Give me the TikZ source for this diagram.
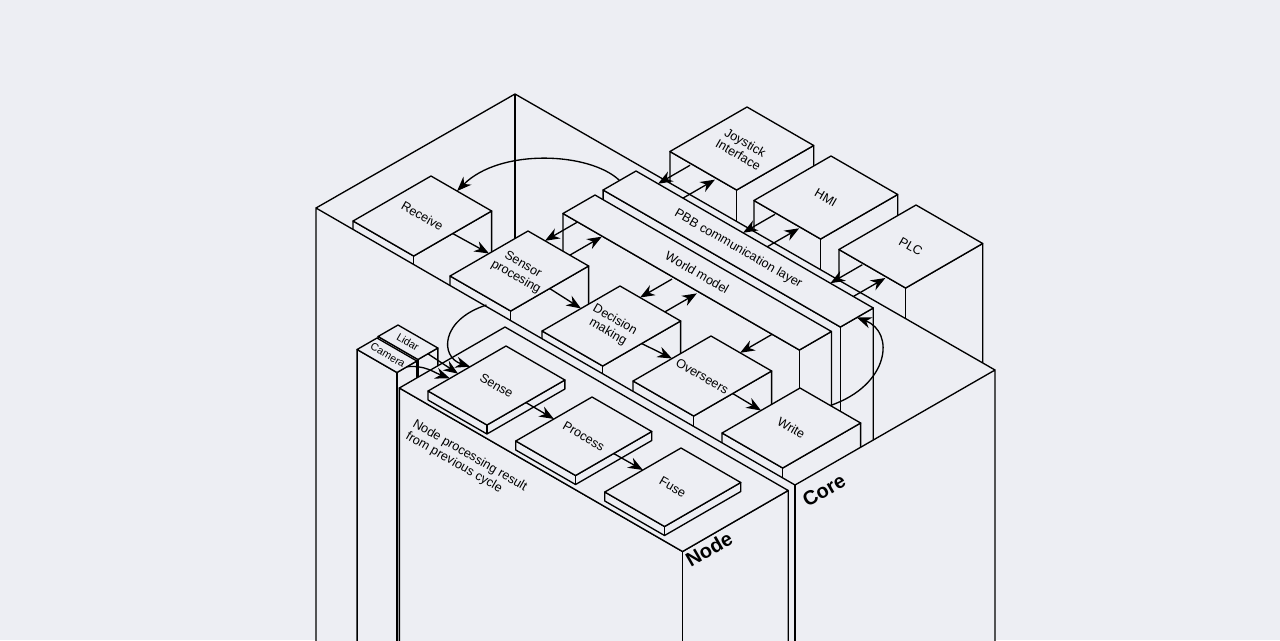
\documentclass[tikz,border=0pt]{standalone}
\usepackage{fontspec}
\setmainfont{Liberation Sans}
\usetikzlibrary{calc,arrows.meta}
\definecolor{bg}{HTML}{EDEEF3}

% isometric box: name, top corner x, y, length (down-right), depth (up-right), height
\newcommand{\isobox}[6]{%
  \coordinate (#1-T) at (#2,#3);
  \coordinate (#1-R) at ($(#1-T)+(0.866*#4,0.5*#4)$);
  \coordinate (#1-L) at ($(#1-T)+(-0.866*#5,0.5*#5)$);
  \coordinate (#1-F) at ($(#1-L)+(0.866*#4,0.5*#4)$);
  \filldraw[box] (#1-L) -- (#1-F) -- (#1-R) -- ($(#1-R)+(0,#6)$) -- ($(#1-F)+(0,#6)$) -- ($(#1-L)+(0,#6)$) -- cycle;
  \draw[box] (#1-T) -- (#1-R) -- (#1-F) -- (#1-L) -- cycle;
  \draw[box] (#1-F) -- ($(#1-F)+(0,#6)$);
  \coordinate (#1-c) at ($(#1-T)!0.5!(#1-F)$);
  \coordinate (#1-in) at ($(#1-L)!0.5!(#1-T)$);
  \coordinate (#1-out) at ($(#1-F)!0.5!(#1-R)$);
}
% link across a gap (up-right): name, box, fraction on back edge
\newcommand{\gaplink}[3]{%
  \coordinate (#1a) at ($(#2-T)!#3!(#2-R)$);
  \coordinate (#1b) at ($(#1a)+(32,-18.5)$);
}

\begin{document}
\begin{tikzpicture}[x={(0.75pt,0)}, y={(0,-0.75pt)},
  box/.style={draw=black, fill=bg, line width=1pt, line join=round},
  flow/.style={-{Stealth[length=11pt,width=8.5pt]}, line width=1pt},
  lbl/.style={font=\fontsize{9.5}{10.5}\selectfont, rotate=-30, align=center, inner sep=1pt},
  small/.style={lbl, font=\fontsize{8}{9}\selectfont}]
\useasboundingbox (0,0) rectangle (1280,640);
\fill[bg] (0,0) rectangle (1280,640);
\clip (0,0) rectangle (1280,640);

% outside devices behind the core
\isobox{joy}{747}{107}{77}{89}{250}
\isobox{hmi}{831}{156}{77}{89}{250}
\isobox{plc}{916}{205}{77}{89}{250}

% core: inner back walls
\fill[bg] (316,208) -- (515,94) -- (995,370) -- (995,700) -- (316,700) -- cycle;
\draw[box] (316,208) -- (515,94) -- (995,370);
\draw[box] (515,94) -- (515,640);

% layers
\isobox{pbb}{636}{171}{274}{38}{250}
\isobox{wm}{595}{195}{273}{37}{250}

% pipeline
\isobox{recv}{431}{176}{70}{90}{250}
\isobox{sens}{528}{231}{70}{90}{250}
\isobox{dec}{620}{286}{70}{90}{250}
\isobox{ovs}{711}{336}{70}{90}{250}
\isobox{write}{800}{388}{70}{90}{250}

% core: front faces
\filldraw[box] (316,208) -- (795,485) -- (995,370) -- (995,700) -- (316,700) -- cycle;
\draw[box] (795,485) -- (795,700);

% node side
\isobox{lidar}{398}{325}{46}{23}{400}
\isobox{cam}{377}{338}{46}{23}{400}
\isobox{node}{505}{327}{327}{122}{400}
\isobox{sense}{506}{346}{68}{90}{9}
\isobox{proc}{592}{397}{69}{88}{9}
\isobox{fuse}{681}{448}{69}{88}{9}

% labels
\node[lbl] (recv-lbl) at (recv-c) {Receive};
\node[lbl] (sens-lbl) at (sens-c) {Sensor\\procesing};
\node[lbl] (dec-lbl) at (dec-c) {Decision\\making};
\node[lbl] (ovs-lbl) at (ovs-c) {Overseers};
\node[lbl] (write-lbl) at (write-c) {Write};
\node[lbl] (joy-lbl) at (joy-c) {Joystick\\Interface};
\node[lbl] (hmi-lbl) at (hmi-c) {HMI};
\node[lbl] (plc-lbl) at (plc-c) {PLC};
\node[lbl] (wm-lbl) at (wm-c) {World model};
\node[lbl] (pbb-lbl) at (pbb-c) {PBB communication layer};
\node[small] (lidar-lbl) at (lidar-c) {Lidar};
\node[small] (cam-lbl) at ($(cam-c)+(1,0)$) {Camera};
\node[lbl] (sense-lbl) at (sense-c) {Sense};
\node[lbl] (proc-lbl) at (proc-c) {Process};
\node[lbl] (fuse-lbl) at (fuse-c) {Fuse};
\node[lbl, align=left, anchor=north west] (prev-lbl) at (416,416) {Node processing result\\from previous cycle};
\node[font=\fontsize{15}{15}\selectfont\bfseries, rotate=30] (node-lbl) at (709,549) {Node};
\node[font=\fontsize{15}{15}\selectfont\bfseries, rotate=30] (core-lbl) at (824,490) {Core};

% forward flow
\draw[flow] (recv-out) -- (sens-in);
\draw[flow] (sens-out) -- (dec-in);
\draw[flow] (dec-out) -- (ovs-in);
\draw[flow] (ovs-out) -- (write-in);
\draw[flow] (sense-out) -- (proc-in);
\draw[flow] (proc-out) -- (fuse-in);

% links across gaps
\gaplink{sd}{sens}{0.28} \gaplink{su}{sens}{0.69}
\gaplink{dd}{dec}{0.33} \gaplink{du}{dec}{0.74}
\gaplink{od}{ovs}{0.48}
\gaplink{jd}{pbb}{0.093} \gaplink{ju}{pbb}{0.198}
\gaplink{hd}{pbb}{0.451} \gaplink{hu}{pbb}{0.553}
\gaplink{pd}{pbb}{0.819} \gaplink{pu}{pbb}{0.916}
\draw[flow] (sdb) -- (sda);
\draw[flow] (sua) -- (sub);
\draw[flow] (ddb) -- (dda);
\draw[flow] (dua) -- (dub);
\draw[flow] (odb) -- (oda);
\draw[flow] (jdb) -- (jda);
\draw[flow] (jua) -- (jub);
\draw[flow] (hdb) -- (hda);
\draw[flow] (hua) -- (hub);
\draw[flow] (pdb) -- (pda);
\draw[flow] (pua) -- (pub);

% feedback arcs
\coordinate (pbb-arc) at ($(pbb-L)!0.5!(pbb-T)$);
\coordinate (recv-top) at ($(recv-T)!0.43!(recv-R)$);
\coordinate (write-arc) at ($(write-T)!0.5!(write-R)$);
\coordinate (sens-loop) at ($(sens-L)!0.6!(sens-F)+(0,8)$);
\coordinate (sense-a) at ($(sense-L)!0.54!(sense-T)$);
\coordinate (sense-b) at ($(sense-L)!0.385!(sense-T)$);
\coordinate (sense-c2) at ($(sense-L)!0.28!(sense-T)$);
\draw[flow] (pbb-arc) .. controls (590,152) and (500,148) .. (recv-top);
\draw[flow] (write-arc) .. controls (890,385) and (895,332) .. (pbb-out);
\draw[flow] (sens-loop) .. controls (440,320) and (440,357) .. (sense-a);
\draw[flow] (lidar-out) -- (sense-b);
\draw[flow] (cam-out) .. controls (425,365) and (433,372) .. (sense-c2);
\end{tikzpicture}
\end{document}
